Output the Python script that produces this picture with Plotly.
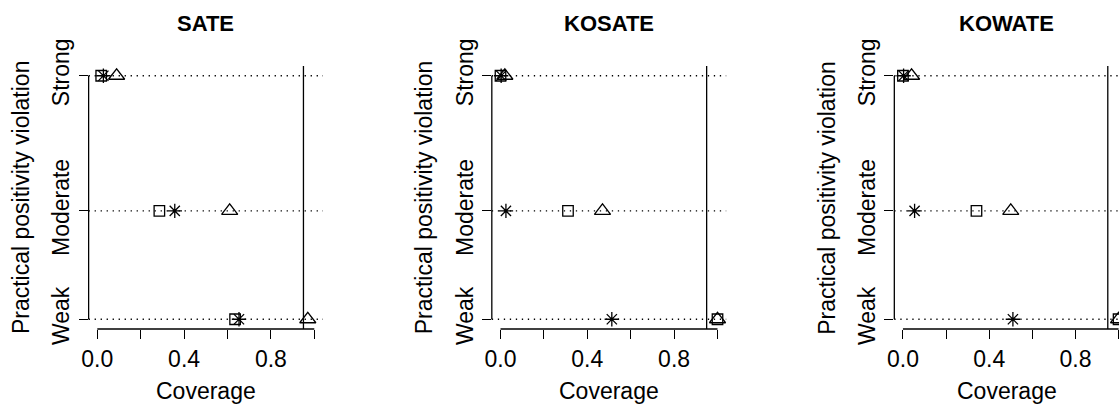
import plotly.graph_objects as go

# ---------------- data ----------------
panels = ["SATE", "KOSATE", "KOWATE"]
levels = ["Weak", "Moderate", "Strong"]
level_values = [1.0, 1.89, 3.0]
x_ticks = [0.0, 0.2, 0.4, 0.6, 0.8, 1.0]
x_tick_labels = ["0.0", "", "0.4", "", "0.8", ""]
nominal_coverage = 0.95

sate_square = [0.635, 0.286, 0.018]
sate_star = [0.653, 0.357, 0.028]
sate_triangle = [0.97, 0.61, 0.089]

kosate_square = [1.0, 0.311, 0.0]
kosate_star = [0.513, 0.025, 0.003]
kosate_triangle = [1.0, 0.47, 0.02]

kowate_square = [1.0, 0.341, 0.0]
kowate_star = [0.51, 0.054, 0.003]
kowate_triangle = [1.0, 0.50, 0.04]

series = [
    (sate_square, sate_star, sate_triangle),
    (kosate_square, kosate_star, kosate_triangle),
    (kowate_square, kowate_star, kowate_triangle),
]

# ---------------- layout geometry ----------------
W, H = 1119, 404
FONT = "Liberation Sans, Arial, Helvetica, sans-serif"
FS = 23
px_per_unit = 217.0
zero_px = [97.3, 500.5, 903.0]
plot_top, plot_bottom = 66.0, 329.0
xlo = -0.04
ylo, yhi = 0.92, 3.08

fig = go.Figure()
layout = dict(
    width=W, height=H,
    margin=dict(l=0, r=0, t=0, b=0, pad=0, autoexpand=False),
    paper_bgcolor="white", plot_bgcolor="white",
    showlegend=False,
    font=dict(family=FONT, size=FS, color="black"),
)
shapes = []
annotations = []

ydom = [(H - plot_bottom) / H, (H - plot_top) / H]

markers = [
    dict(symbol="square-open", size=10.5),
    dict(symbol="asterisk-open", size=12),
    dict(symbol="triangle-up-open", size=14),
]

for i, name in enumerate(panels):
    sfx = "" if i == 0 else str(i + 1)
    left = zero_px[i] + xlo * px_per_unit
    right = left + 1.08 * px_per_unit
    xhi = 1.04
    if right > W:
        # last panel is cut by the image edge; keep the value 1.0 just inside
        right = W
        xhi = 1.002
    layout["xaxis" + sfx] = dict(
        domain=[left / W, right / W], range=[xlo, xhi], anchor="y" + sfx,
        tickmode="array", tickvals=x_ticks, ticktext=x_tick_labels,
        ticks="outside", ticklen=9, tickwidth=1.3, tickcolor="black",
        showline=False, showgrid=False, zeroline=False, automargin=False,
        tickfont=dict(family=FONT, size=FS, color="black"),
        fixedrange=True,
    )
    layout["yaxis" + sfx] = dict(
        domain=ydom, range=[ylo, yhi], anchor="x" + sfx,
        tickmode="array", tickvals=level_values, ticktext=levels,
        tickangle=-90,
        ticks="outside", ticklen=9, tickwidth=1.3, tickcolor="black",
        showline=False, showgrid=False, zeroline=False, automargin=False,
        tickfont=dict(family=FONT, size=FS, color="black"),
        fixedrange=True,
    )

    xr, yr = "x" + sfx, "y" + sfx
    # R-style axis lines (first to last tick)
    shapes.append(dict(type="line", xref=xr, yref="paper", x0=x_ticks[0], x1=x_ticks[-1],
                       y0=ydom[0], y1=ydom[0], line=dict(color="black", width=1.3)))
    shapes.append(dict(type="line", xref="paper", yref=yr, x0=left / W, x1=left / W,
                       y0=level_values[0], y1=level_values[-1], line=dict(color="black", width=1.3)))
    # dotted guide lines
    for lv in level_values:
        shapes.append(dict(type="line", xref=xr + " domain", yref=yr, x0=0, x1=1, y0=lv, y1=lv,
                           line=dict(color="black", width=1.3, dash="1.3px,4.7px"), layer="below"))
    # nominal coverage line
    shapes.append(dict(type="line", xref=xr, yref=yr + " domain", x0=nominal_coverage, x1=nominal_coverage,
                       y0=0, y1=1, line=dict(color="black", width=1.3)))

    for vals, mk in zip(series[i], markers):
        fig.add_trace(go.Scatter(
            x=vals, y=level_values, xaxis=xr, yaxis=yr, mode="markers",
            cliponaxis=False, hoverinfo="skip",
            marker=dict(symbol=mk["symbol"], size=mk["size"], color="black",
                        line=dict(color="black", width=1.3)),
        ))

    annotations.append(dict(text="<b>%s</b>" % name, xref=xr + " domain", yref="paper",
                            x=0.5, y=(H - 23) / H, xanchor="center", yanchor="middle",
                            showarrow=False, font=dict(family=FONT, size=22, color="black")))
    annotations.append(dict(text="Coverage", xref=xr + " domain", yref="paper",
                            x=0.5, y=0.0, xanchor="center", yanchor="bottom", yshift=-2,
                            showarrow=False, font=dict(family=FONT, size=FS, color="black")))
    annotations.append(dict(text="Practical positivity violation", xref="paper", yref="paper",
                            x=(left - 68) / W, y=(H - (plot_top + plot_bottom) / 2) / H,
                            xanchor="center", yanchor="middle", textangle=-90,
                            showarrow=False, font=dict(family=FONT, size=FS, color="black")))

layout["shapes"] = shapes
layout["annotations"] = annotations
fig.update_layout(**layout)
fig.write_html("out.html")
